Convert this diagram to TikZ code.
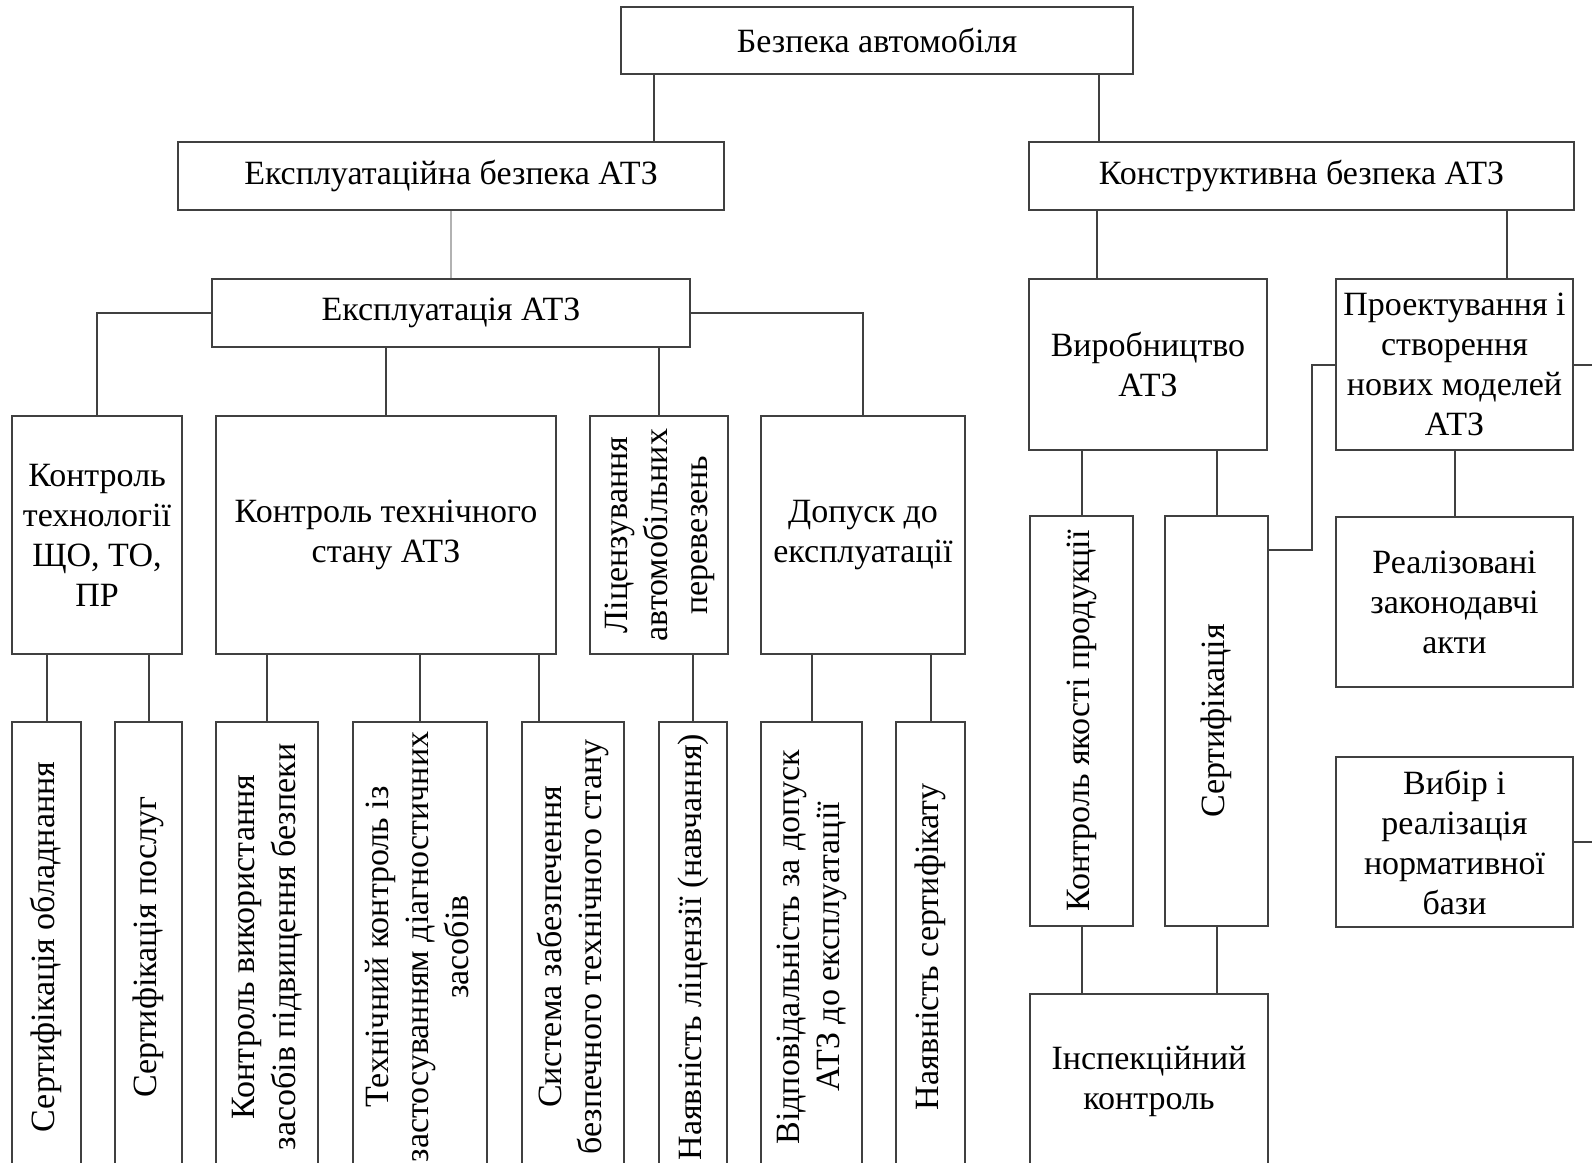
\documentclass[tikz,border=0pt]{standalone}
\usepackage{fontspec}
\setmainfont{Liberation Serif}
\usepackage{graphicx}

\newcommand{\vlines}[1]{\rotatebox{90}{\begin{tabular}{@{}c@{}}#1\end{tabular}}}

\begin{document}
\begin{tikzpicture}[x=0.5pt, y=-0.5pt,
    box/.style={draw=black!75, line width=1pt, inner sep=0pt, align=center,
                font=\fontsize{17}{20}\selectfont},
    boxsize/.style 2 args={minimum width=#1*0.5pt, minimum height=#2*0.5pt},
    link/.style={draw=black!75, line width=1pt}]

        \useasboundingbox (0,0) rectangle (1592,1163);
        \clip (0,0) rectangle (1592,1163);

        % Nodes
        \node [box, boxsize={512}{67}] (top)    at (877,40.5)  {Безпека автомобіля};
        \node [box, boxsize={546}{68}] (expl)   at (451,176)   {Експлуатаційна безпека АТЗ};
        \node [box, boxsize={545}{68}] (konstr) at (1301.5,176){Конструктивна безпека АТЗ};
        \node [box, boxsize={478}{68}] (exp)    at (451,313)   {Експлуатація АТЗ};

        \node [box, boxsize={170}{238}] (ktech) at (97,535)  {Контроль\\технології\\ЩО, ТО,\\ПР};
        \node [box, boxsize={340}{238}] (kstan) at (386,535) {Контроль технічного\\стану АТЗ};
        \node [box, boxsize={138}{238}] (lic)   at (659,535) {\vlines{Ліцензування\\автомобільних\\перевезень}};
        \node [box, boxsize={204}{238}] (dop)   at (863,535) {Допуск до\\експлуатації};

        \node [box, boxsize={69}{450}]  (sobl)  at (46.5,947)  {\vlines{Сертифікація обладнання}};
        \node [box, boxsize={67}{450}]  (spos)  at (148.5,947) {\vlines{Сертифікація послуг}};
        \node [box, boxsize={102}{450}] (kvyk)  at (267,947)   {\vlines{Контроль використання\\засобів підвищення безпеки}};
        \node [box, boxsize={134}{450}] (tkon)  at (420,947)   {\vlines{Технічний контроль із\\застосуванням діагностичних\\засобів}};
        \node [box, boxsize={102}{450}] (sys)   at (573,947)   {\vlines{Система забезпечення\\безпечного технічного стану}};
        \node [box, boxsize={68}{450}]  (nlic)  at (693,947)   {\vlines{Наявність ліцензії (навчання)}};
        \node [box, boxsize={101}{450}] (vidp)  at (811.5,947) {\vlines{Відповідальність за допуск\\АТЗ до експлуатації}};
        \node [box, boxsize={69}{450}]  (nsert) at (930.5,947) {\vlines{Наявність сертифікату}};

        \node [box, boxsize={238}{171}] (vyr)    at (1148,364.5)   {Виробництво\\АТЗ};
        \node [box, boxsize={237}{171}] (proekt) at (1454.5,364.5) {Проектування і\\створення\\нових моделей\\АТЗ};
        \node [box, boxsize={103}{410}] (kyak)   at (1081.5,721)   {\vlines{Контроль якості продукції}};
        \node [box, boxsize={103}{410}] (sert)   at (1216.5,721)   {\vlines{Сертифікація}};
        \node [box, boxsize={238}{174}] (insp)   at (1149,1081)    {Інспекційний\\контроль};
        \node [box, boxsize={237}{170}] (real)   at (1454.5,602)   {Реалізовані\\законодавчі\\акти};
        \node [box, boxsize={237}{170}] (vybir)  at (1454.5,842)   {Вибір і\\реалізація\\нормативної\\бази};

        \coordinate (rim) at (1600,364.5);

        % Edges
        \draw [link] ([xshift=17pt]top.south west) -- ([xshift=17pt]top.south west |- expl.north);
        \draw [link] ([xshift=-17.5pt]top.south east) -- ([xshift=-17.5pt]top.south east |- konstr.north);
        \draw [gray!60, line width=0.8pt] (expl.south) -- (exp.north);

        \draw [link] (exp.west) -| (ktech.north);
        \draw [link] (exp.east) -| (dop.north);
        \draw [link] (kstan.north) -- (kstan.north |- exp.south);
        \draw [link] (lic.north) -- (lic.north |- exp.south);

        \foreach \c/\p in {sobl/ktech, spos/ktech, kvyk/kstan, tkon/kstan, nlic/lic, vidp/dop, nsert/dop}
            \draw [link] (\c.north) -- (\c.north |- \p.south);
        \draw [link] ([xshift=9pt]sys.north west) -- ([xshift=9pt]sys.north west |- kstan.south);

        \draw [link] ([xshift=34.5pt]vyr.north west) -- ([xshift=34.5pt]vyr.north west |- konstr.south);
        \draw [link] ([xshift=-33.75pt]proekt.north east) -- ([xshift=-33.75pt]proekt.north east |- konstr.south);
        \foreach \c/\p in {kyak/vyr, sert/vyr, real/proekt}
            \draw [link] (\c.north) -- (\c.north |- \p.south);
        \draw [link] (kyak.south) -- (kyak.south |- insp.north);
        \draw [link] (sert.south) -- (sert.south |- insp.north);

        \draw [link] ([yshift=-17.5pt]sert.north east) -- ++(42.5,0) |- (proekt.west);
        \draw [link] (proekt.east) -- (proekt.east -| rim);
        \draw [link] (vybir.east) -- (vybir.east -| rim);

\end{tikzpicture}
\end{document}
